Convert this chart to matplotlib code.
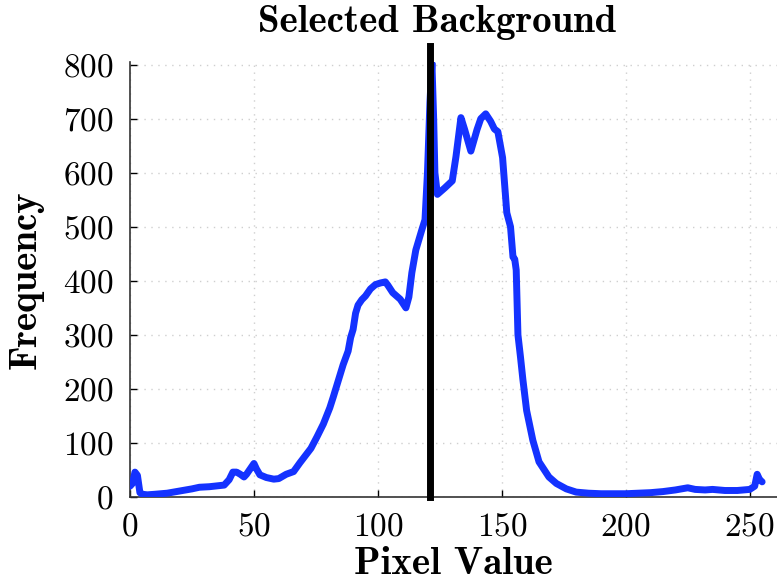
import matplotlib
matplotlib.use("Agg")
import matplotlib.pyplot as plt

matplotlib.rcParams.update({
    "font.family": "serif",
    "font.serif": ["cmr10"],
    "mathtext.fontset": "cm",
    "axes.formatter.use_mathtext": True,
})

# histogram of pixel values
pixel = [0, 1, 2, 3, 4, 5, 7, 10, 15, 20, 25, 28, 32, 36, 38, 40, 41.5, 43,
         44.5, 46, 47, 48.5, 50, 51, 52.4, 55, 58, 60, 63, 66, 68.5, 71, 73,
         75.4, 78, 80.6, 82, 84, 86, 88, 89, 90, 91, 92, 93.5, 95, 97, 99,
         101, 103, 104, 106, 109, 111.3, 112.5, 113.7, 115.3, 117.7, 119,
         120, 121, 121.8, 122.5, 123, 124, 127, 130, 131.5, 133.5, 135,
         137.5, 140, 141.5, 143.5, 145.5, 147, 148.4, 150.3, 152, 153.5,
         154.5, 155.2, 155.8, 156.5, 157.5, 158.5, 160, 162.5, 165, 169,
         172, 176, 180, 185, 190, 200, 210, 215, 220, 225, 228, 232, 235,
         240, 245, 250, 252, 253, 254, 255]
freq = [20, 25, 46, 40, 8, 5, 4, 5, 7, 11, 15, 18, 19, 21, 22, 32, 46, 46,
        42, 37, 42, 52, 62, 52, 41, 36, 33, 34, 42, 47, 63, 78, 90,
        111, 135, 165, 185, 215, 245, 270, 295, 310, 340, 355, 365, 372, 385, 393,
        396, 398, 392, 378, 366, 350, 370, 415, 457, 494, 513,
        600, 730, 803, 700, 600, 560, 572, 585, 630, 702, 680,
        640, 680, 700, 709, 695, 681, 676, 628, 526, 500,
        444, 440, 420, 300, 260, 217, 160, 105, 65, 37,
        25, 15, 9, 7, 6, 6, 8, 10, 13, 17, 14, 13, 14,
        12, 12, 14, 20, 42, 32, 28]
selected = 121

fig = plt.figure(figsize=(7.77, 5.88), dpi=100)
ax = fig.add_axes([0.1673, 0.1548, 0.8327, 0.7398])

ax.plot(pixel, freq, color="#1432ff", lw=5, solid_joinstyle="round",
        solid_capstyle="round", zorder=3)
ax.plot([selected, selected], [0, 835], color="black", lw=5, clip_on=False, zorder=4)

ax.set_xlim(0, 261)
ax.set_ylim(0, 805)
ax.set_xticks([0, 50, 100, 150, 200, 250])
ax.set_yticks(range(0, 801, 100))
ax.tick_params(direction="in", length=5, width=1, labelsize=24)
ax.tick_params(axis="x", pad=11)
ax.tick_params(axis="y", pad=12)
ax.grid(True, linestyle=(0, (1, 4)), color="#cfcfcf", lw=1)
ax.set_axisbelow(True)
for s in ("top", "right"):
    ax.spines[s].set_visible(False)
for s in ("left", "bottom"):
    ax.spines[s].set_linewidth(1.2)
    ax.spines[s].set_color("#333333")

ax.set_xlabel("Pixel Value", fontfamily="cmb10", fontsize=28, labelpad=4)
ax.set_ylabel("Frequency", fontfamily="cmb10", fontsize=28, labelpad=14)
fig.text(437 / 777, 1 - 22 / 588, "Selected Background", fontfamily="cmb10",
         fontsize=28, ha="center", va="center")

fig.savefig("out.png", dpi=100)
